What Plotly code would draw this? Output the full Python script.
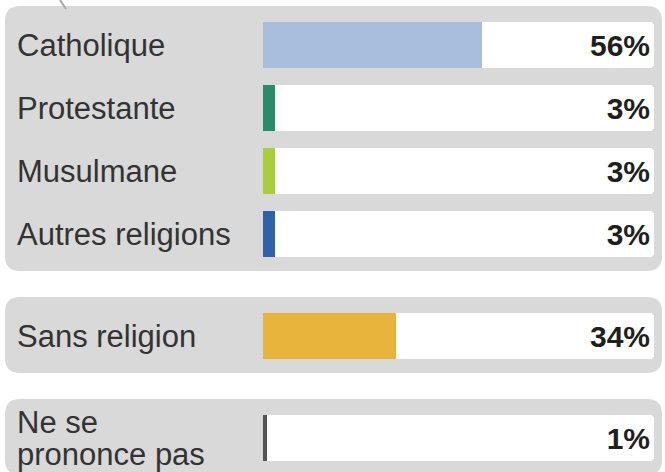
import plotly.graph_objects as go

# Survey answers: religious affiliation (%)
categories = ["Catholique", "Protestante", "Musulmane", "Autres religions",
              "Sans religion", "Ne se<br>prononce pas"]
values = [56, 3, 3, 3, 34, 1]
groups = [0, 0, 0, 0, 1, 2]          # rows sharing a grey panel
colors = ["#a9bedc", "#2a8a6c", "#a6cf3a", "#2f62a8", "#e9b43c", "#555555"]

W, H = 665, 472
X0_PX, X100_PX = 263, 654            # horizontal pixel span of 0..100 %
FIRST_ROW, ROW_PITCH, GROUP_GAP = 45, 63, 39
BAR_H = 46
PANEL_L, PANEL_R = 5, 662
PAD_TOP, PAD_BOTTOM = 16, 14
LABEL_SIZE, LINE_STEP = 31, 32

# row centres (y axis runs in pixels, top to bottom)
ys = []
y = FIRST_ROW
for i, g in enumerate(groups):
    if i:
        y += ROW_PITCH + (GROUP_GAP if g != groups[i - 1] else 0)
    ys.append(y)

px_per_pct = (X100_PX - X0_PX) / 100
xmin = -X0_PX / px_per_pct
xmax = xmin + W / px_per_pct


def rounded_rect(x0, y0, x1, y1, r):
    fx = lambda p: p / W
    fy = lambda p: 1 - p / H
    return (f"M {fx(x0 + r)},{fy(y0)} L {fx(x1 - r)},{fy(y0)} "
            f"Q {fx(x1)},{fy(y0)} {fx(x1)},{fy(y0 + r)} "
            f"L {fx(x1)},{fy(y1 - r)} Q {fx(x1)},{fy(y1)} {fx(x1 - r)},{fy(y1)} "
            f"L {fx(x0 + r)},{fy(y1)} Q {fx(x0)},{fy(y1)} {fx(x0)},{fy(y1 - r)} "
            f"L {fx(x0)},{fy(y0 + r)} Q {fx(x0)},{fy(y0)} {fx(x0 + r)},{fy(y0)} Z")


shapes = []
for g in sorted(set(groups)):
    rows = [ys[i] for i in range(len(ys)) if groups[i] == g]
    top = rows[0] - BAR_H / 2 - PAD_TOP
    bottom = rows[-1] + BAR_H / 2 + PAD_BOTTOM
    shapes.append(dict(type="path", xref="paper", yref="paper", layer="below",
                       path=rounded_rect(PANEL_L, top, PANEL_R, bottom, 15),
                       fillcolor="#d9d9d9", line=dict(width=0)))

# small pointer above the first panel
shapes.append(dict(type="line", xref="paper", yref="paper",
                   x0=60 / W, y0=1, x1=66 / W, y1=1 - 9 / H,
                   line=dict(color="#a8a8a8", width=2)))

FONT = "Liberation Sans, Arial, Helvetica, sans-serif"

fig = go.Figure()

# white track for every row, carrying the value label at its right end
fig.add_trace(go.Bar(
    x=[100] * len(values), y=ys, orientation="h", width=BAR_H,
    marker=dict(color="#ffffff", cornerradius=4, line=dict(width=0)),
    text=[f"{v}%" for v in values], textposition="inside",
    insidetextanchor="end", textangle=0, constraintext="none",
    textfont=dict(family=FONT, size=30, color="#1f1f1f", weight="bold"),
    hoverinfo="skip", showlegend=False,
))

# coloured value bars
fig.add_trace(go.Bar(
    x=values, y=ys, orientation="h", width=BAR_H,
    marker=dict(color=colors, cornerradius=6, line=dict(width=0)),
    hovertext=categories, hoverinfo="text+x", showlegend=False,
))

# row labels; multi-line labels are set line by line with a tight step
annotations = []
for lab, yc in zip(categories, ys):
    lines = lab.split("<br>")
    for k, line in enumerate(lines):
        offset = (k - (len(lines) - 1) / 2) * LINE_STEP
        annotations.append(dict(
            x=15 / W, xref="paper", y=yc + offset, yref="y", text=line,
            xanchor="left", yanchor="middle", align="left", showarrow=False,
            font=dict(family=FONT, size=LABEL_SIZE, color="#333333")))

fig.update_layout(
    width=W, height=H,
    margin=dict(l=0, r=0, t=0, b=0),
    paper_bgcolor="#ffffff", plot_bgcolor="rgba(0,0,0,0)",
    barmode="overlay", bargap=0,
    xaxis=dict(range=[xmin, xmax], visible=False, fixedrange=True),
    yaxis=dict(range=[H, 0], visible=False, fixedrange=True),
    shapes=shapes, annotations=annotations,
)

fig.write_html("out.html")
